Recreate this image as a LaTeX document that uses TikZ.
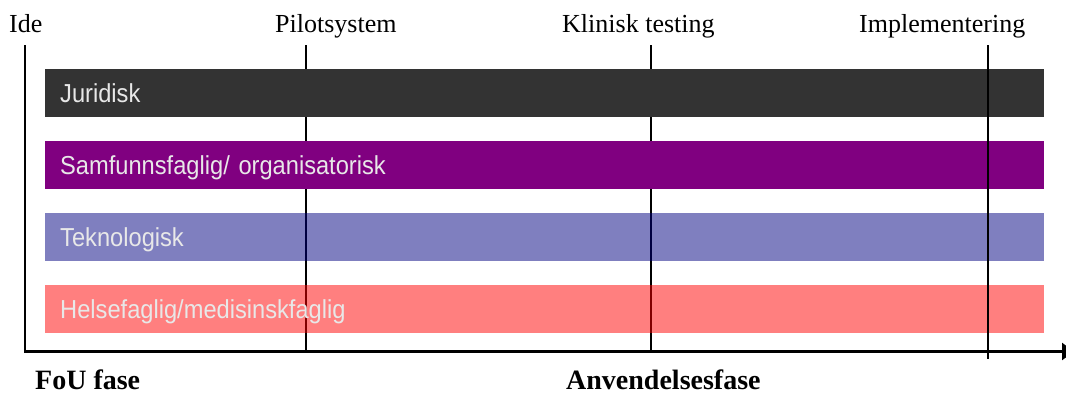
\documentclass[tikz,border=0pt]{standalone}
\usepackage{fontspec}
\setmainfont{Liberation Serif}
\newfontfamily\barfont[FakeStretch=0.91]{Liberation Sans}
\usetikzlibrary{arrows.meta}

\definecolor{jurgray}{HTML}{333333}
\definecolor{orgpurple}{HTML}{800080}

\begin{document}
\begin{tikzpicture}[x=1pt,y=-1pt,
    phase/.style={anchor=base west,inner sep=0pt,font=\fontsize{26}{30}\selectfont},
    stage/.style={anchor=base west,inner sep=0pt,font=\fontsize{28}{32}\selectfont\bfseries},
    bar/.style={anchor=north west,minimum width=999pt,minimum height=47.5pt,
        inner xsep=15pt,inner ysep=0pt,text width=969pt,align=left,
        text height=24pt,text depth=5pt,text=white!91!black,text opacity=1,
        font=\barfont\fontsize{26}{30}\selectfont},
    milestone/.style={line width=2.5pt}]
    \useasboundingbox (0,0) rectangle (1066,394);

    % milestones
    \node[phase] (ide) at (9,32) {Ide};
    \node[phase] (pilot) at (275,32) {Pilotsystem};
    \node[phase] (klinisk) at (562,32) {Klinisk testing};
    \node[phase] (impl) at (859,32) {Implementering};
    \coordinate (pilottop) at (306,45);
    \coordinate (pilotbot) at (306,351.5);
    \coordinate (klintop) at (651,45);
    \coordinate (klinbot) at (651,351.5);
    \coordinate (impltop) at (988,45);
    \coordinate (implbot) at (988,359);
    \draw[milestone] (pilottop) -- (pilotbot);
    \draw[milestone] (klintop) -- (klinbot);

    % bars
    \node[bar,fill=jurgray] (jur) at (45,69) {Juridisk};
    \node[bar,fill=orgpurple] (org) at (45,141) {Samfunnsfaglig/ organisatorisk};
    \node[bar,fill=blue!50!black,fill opacity=0.5] (tek) at (45,213) {Teknologisk};
    \node[bar,fill=red,fill opacity=0.5] (med) at (45,285) {Helsefaglig/medisinskfaglig};

    \draw[milestone] (impltop) -- (implbot);

    % axes
    \coordinate (ytop) at (25,45);
    \coordinate (origin) at (25,351.5);
    \coordinate (xend) at (1074,351.5);
    \draw[milestone,-{Triangle[length=12pt,width=17pt]}] (ytop) -- (origin) -- (xend);

    \node[stage] (fou) at (35,389) {FoU fase};
    \node[stage] (anv) at (566,389) {Anvendelsesfase};
\end{tikzpicture}
\end{document}
